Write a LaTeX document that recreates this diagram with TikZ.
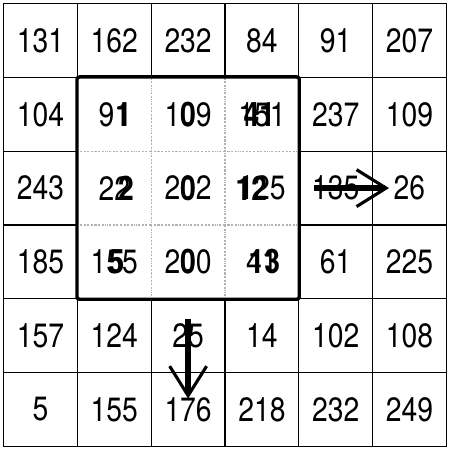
\documentclass[tikz,border=0pt]{standalone}
\usepackage{fontspec}
\setmainfont[FakeStretch=0.84]{TeX Gyre Heros}
\usetikzlibrary{calc,arrows.meta}
\tikzset{cell/.style={rectangle, minimum size=1cm, inner sep=0pt, font=\fontsize{13}{15}\selectfont},
  ink/.code={\ifnum#1=1 \pgfkeysalso{draw=gray!60, densely dotted}\else\pgfkeysalso{draw}\fi},
  over/.style={inner sep=0pt, font=\fontsize{13}{15}\selectfont\bfseries},
  move/.style={line width=2.4pt, -{Straight Barb[length=4mm, width=5mm, line width=1.2pt]}}}

\begin{document}
\begin{tikzpicture}
  \useasboundingbox (-0.05,-0.05) rectangle (6.05,6.05);
  % the 6x6 grid of values
  \foreach \r / \vals in {0/{131,162,232,84,91,207}, 1/{104,91,109,151,237,109},
      2/{243,22,202,125,135,26}, 3/{185,155,200,41,61,225},
      4/{157,124,25,14,102,108}, 5/{5,155,176,218,232,249}} {
    \foreach \v [count=\c from 0] in \vals {
      \pgfmathtruncatemacro\inbox{and(and(\r>0,\r<4),and(\c>0,\c<4))}
      \node at (\c+0.5, 5.5-\r) [cell, ink=\inbox] (c\r\c) {\v};
    }
  }

  % second layer inside the window
  \node at ([xshift=0.6pt]c11) [over] (o11) {\phantom{9}1};
  \node at (c12) [over] (o12) {\phantom{1}0\phantom{9}};
  \node at ([xshift=-1pt]c13) [over] (o13) {41};
  \node at ([xshift=1.5pt]c21) [over] (o21) {\phantom{2}2};
  \node at (c22) [over] (o22) {\phantom{2}0\phantom{2}};
  \node at ([xshift=-1pt]c23) [over] (o23) {12\phantom{5}};
  \node at ([xshift=0.8pt]c31) [over] (o31) {\phantom{1}5\phantom{5}};
  \node at (c32) [over] (o32) {\phantom{2}0\phantom{0}};
  \node at ([xshift=1pt]c33) [over] (o33) {13};

  \draw[line width=1.3pt, rounded corners=1pt] (c11.north west) rectangle (c33.south east);

  \draw[move] ([xshift=2.2mm]c24.west) -- ([xshift=2.3mm]c25.west);
  \draw[move] ([yshift=-2.8mm]c42.north) -- ([yshift=-3.6mm]c52.north);
\end{tikzpicture}
\end{document}
